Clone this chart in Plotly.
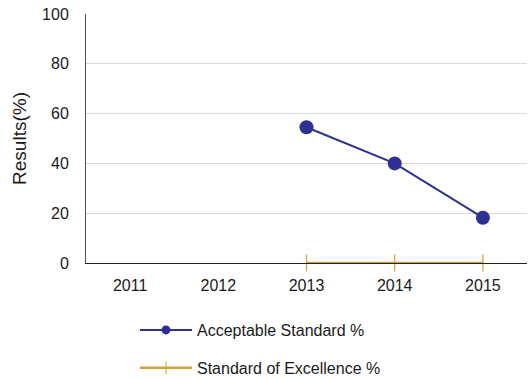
import plotly.graph_objects as go

years = ["2011", "2012", "2013", "2014", "2015"]
acceptable = [None, None, 54.5, 40.0, 18.2]
excellence = [None, None, 0, 0, 0]
series_names = ["Acceptable Standard %", "Standard of Excellence %"]

blue = "#2e3192"
gold = "#d4a034"

W, H = 531, 379
L, R, T, B = 86, 4, 14, 116
pw, ph = W - L - R, H - T - B

fig = go.Figure()
fig.add_trace(go.Scatter(
    x=years, y=acceptable, name=series_names[0],
    mode="lines+markers", line=dict(color=blue, width=2),
    marker=dict(symbol="circle", size=14, color=blue),
    showlegend=False, cliponaxis=False,
))
fig.add_trace(go.Scatter(
    x=years, y=excellence, name=series_names[1],
    mode="lines+markers", line=dict(color=gold, width=2.5),
    marker=dict(symbol="line-ns", size=12, line=dict(color=gold, width=1.2)),
    showlegend=False, cliponaxis=False,
))
# legend entries (smaller legend markers as in the reference)
fig.add_trace(go.Scatter(
    x=[None], y=[None], name=series_names[0], mode="lines+markers",
    line=dict(color=blue, width=2), marker=dict(symbol="circle", size=9, color=blue),
    legendgroup="a",
))
fig.add_trace(go.Scatter(
    x=[None], y=[None], name=series_names[1], mode="lines+markers",
    line=dict(color=gold, width=2.5),
    marker=dict(symbol="line-ns", size=9, line=dict(color=gold, width=1)),
    legendgroup="b",
))

fig.update_layout(
    width=W, height=H,
    margin=dict(l=L, r=R, t=T, b=B, autoexpand=False),
    paper_bgcolor="white", plot_bgcolor="white",
    font=dict(family="Liberation Sans, Arial, sans-serif", size=16, color="#1a1a1a"),
    showlegend=True,
    legend=dict(
        orientation="v", x=(135 - L) / pw, xanchor="left",
        y=(H - B - 313) / ph, yanchor="top",
        tracegroupgap=14, itemwidth=52, font=dict(size=16),
        bgcolor="rgba(0,0,0,0)",
    ),
    xaxis=dict(
        type="category", range=[-0.5, len(years) - 0.5],
        showgrid=False, showline=True, linecolor="#222222",
        linewidth=1, ticks="outside", ticklen=8, tickcolor="rgba(0,0,0,0)",
    ),
    yaxis=dict(
        range=[0, 100], dtick=20, showgrid=True, gridcolor="#d9d9d9",
        showline=True, linecolor="#555555", linewidth=1,
        ticks="outside", ticklen=13, tickcolor="rgba(0,0,0,0)",
        zeroline=False, title=dict(text="Results(%)", standoff=10),
    ),
)
fig.write_html("out.html")
